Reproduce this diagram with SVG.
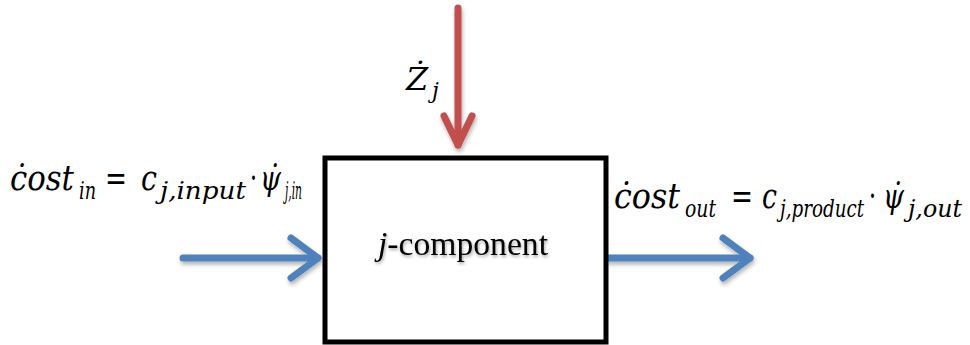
<svg xmlns="http://www.w3.org/2000/svg" width="970" height="345" viewBox="0 0 970 345">
<defs>
<style>
text{font-family:"DejaVu Serif","Liberation Serif",serif;fill:#000}
.m{font-style:italic}
.n{font-style:normal}
.big{font-size:36px}
.sub{font-size:24px}
.blue{stroke:#4F81BD;stroke-width:7;fill:none;stroke-linecap:round;stroke-linejoin:round}
.red{stroke:#C0504D;stroke-width:7;fill:none;stroke-linecap:round;stroke-linejoin:round}
</style>
<filter id="sh" x="-20%" y="-20%" width="140%" height="160%">
<feDropShadow dx="1" dy="3" stdDeviation="2" flood-color="#000" flood-opacity="0.3"/>
</filter>
<filter id="tsh" x="-10%" y="-20%" width="120%" height="160%">
<feDropShadow dx="1" dy="2" stdDeviation="1.5" flood-color="#000" flood-opacity="0.35"/>
</filter>
</defs>
<rect width="970" height="345" fill="#fff"/>
<g id="connectors">
<g id="arrow-in" filter="url(#sh)">
<path class="blue" d="M183,258 H318"/>
<path class="blue" d="M291,238 L318,258 L291,278"/>
</g>
<g id="arrow-out" filter="url(#sh)">
<path class="blue" d="M608,258 H750"/>
<path class="blue" d="M723,238 L750,258 L723,278"/>
</g>
<g id="arrow-z" filter="url(#sh)">
<path class="red" d="M458,8 V145"/>
<path class="red" d="M444,116 L458,145 L472,116"/>
</g>
</g>
<g id="component">
<rect x="325" y="158" width="281" height="184" fill="#fff" stroke="#000" stroke-width="5"/>
<text style="font-family:'Liberation Serif','DejaVu Serif',serif" x="378" y="255" font-size="34" filter="url(#tsh)" textLength="170" lengthAdjust="spacingAndGlyphs"><tspan font-style="italic">j</tspan>-component</text>
</g>
<g id="label-z">
<text class="m"><tspan x="406" y="90" font-size="32">Ż</tspan><tspan x="432" y="98" font-size="22">j</tspan></text>
</g>
<g id="label-in">
<text class="m big"><tspan x="10" y="190" textLength="64" lengthAdjust="spacingAndGlyphs">ċost</tspan><tspan class="sub" x="79" y="199" textLength="17" lengthAdjust="spacingAndGlyphs">in</tspan><tspan class="n" x="105" y="190" textLength="22" lengthAdjust="spacingAndGlyphs">=</tspan><tspan x="141" y="190" textLength="16" lengthAdjust="spacingAndGlyphs">c</tspan><tspan class="sub" x="160" y="199" textLength="86" lengthAdjust="spacingAndGlyphs">j,input</tspan><tspan class="n" x="250" y="190" textLength="7" lengthAdjust="spacingAndGlyphs">·</tspan><tspan x="260" y="190" textLength="21" lengthAdjust="spacingAndGlyphs">ψ̇</tspan><tspan class="sub" x="285" y="199" textLength="17" lengthAdjust="spacingAndGlyphs">j,in</tspan></text>
</g>
<g id="label-out">
<text class="m big"><tspan x="614" y="208" textLength="66" lengthAdjust="spacingAndGlyphs">ċost</tspan><tspan class="sub" x="685" y="217" textLength="31" lengthAdjust="spacingAndGlyphs">out</tspan><tspan class="n" x="731" y="208" textLength="22" lengthAdjust="spacingAndGlyphs">=</tspan><tspan x="762" y="208" textLength="15" lengthAdjust="spacingAndGlyphs">c</tspan><tspan class="sub" x="780" y="217" textLength="84" lengthAdjust="spacingAndGlyphs">j,product</tspan><tspan class="n" x="869" y="208" textLength="7" lengthAdjust="spacingAndGlyphs">·</tspan><tspan x="883" y="208" textLength="21" lengthAdjust="spacingAndGlyphs">ψ̇</tspan><tspan class="sub" x="908" y="217" textLength="54" lengthAdjust="spacingAndGlyphs">j,out</tspan></text>
</g>
</svg>
